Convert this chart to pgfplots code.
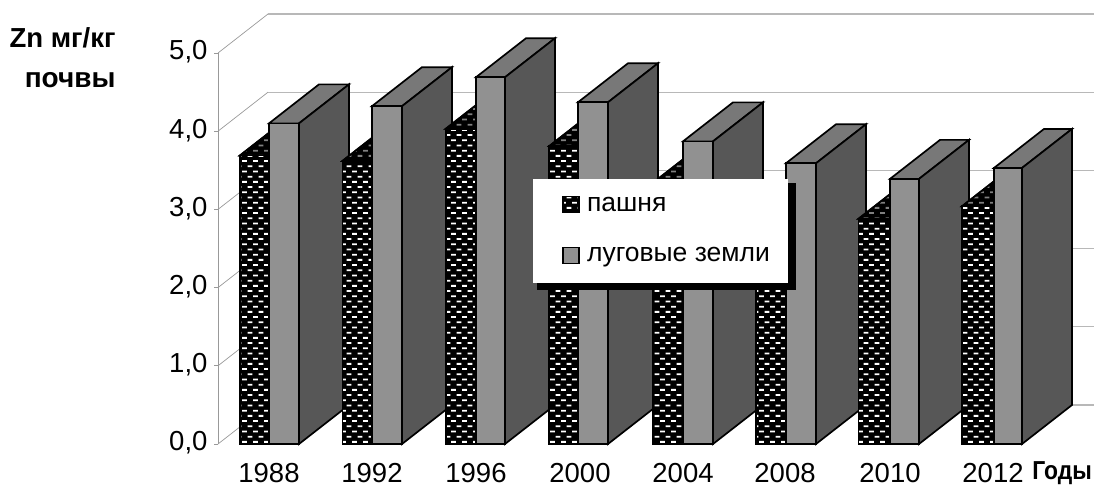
\documentclass[border=0pt]{standalone}
\usepackage{fontspec}
\setmainfont{Liberation Sans}
\usepackage{pgfplots}
\pgfplotsset{compat=1.18}
\usetikzlibrary{patterns}
\definecolor{barfront}{gray}{0.57}
\definecolor{bartop}{gray}{0.47}
\definecolor{barside}{gray}{0.34}
\definecolor{gridc}{gray}{0.72}
\definecolor{diagc}{gray}{0.6}
\pgfdeclarepatternformonly{bricksw}{\pgfqpoint{-1pt}{-1pt}}{\pgfqpoint{11pt}{10.4pt}}{\pgfqpoint{11pt}{10.4pt}}{%
  \pgfpathrectangle{\pgfqpoint{0pt}{1.6pt}}{\pgfqpoint{4.8pt}{1.8pt}}%
  \pgfpathrectangle{\pgfqpoint{5.5pt}{6.8pt}}{\pgfqpoint{4.8pt}{1.8pt}}%
  \pgfusepath{fill}}
\tikzset{
  patf/.style={fill=black,postaction={pattern=bricksw,pattern color=white}},
  patt/.style={fill=black,postaction={pattern=bricksw,pattern color=gray}},
  edge/.style={draw=black,line width=1.7pt,line join=miter,no markers},
}
\def\dx{50}\def\dy{0.4987}
\newcommand{\twobar}[5]{%
  \pgfmathsetmacro{\xa}{#1}%
  \pgfmathsetmacro{\xb}{#2}%
  \pgfmathsetmacro{\xc}{#3}%
  \pgfmathsetmacro{\pt}{#4+\dy}%
  \pgfmathsetmacro{\gt}{#5+\dy}%
  \pgfmathsetmacro{\xad}{\xa+\dx}%
  \pgfmathsetmacro{\xbd}{\xb+\dx}%
  \pgfmathsetmacro{\xcd}{\xc+\dx}%
  \addplot[edge,patt,forget plot] coordinates {(\xa,#4)(\xb,#4)(\xbd,\pt)(\xad,\pt)} --cycle;
  \addplot[edge,patf,forget plot] coordinates {(\xa,0)(\xb,0)(\xb,#4)(\xa,#4)} --cycle;
  \addplot[edge,fill=bartop,forget plot] coordinates {(\xb,#5)(\xc,#5)(\xcd,\gt)(\xbd,\gt)} --cycle;
  \addplot[edge,fill=barside,forget plot] coordinates {(\xc,0)(\xcd,\dy)(\xcd,\gt)(\xc,#5)} --cycle;
  \addplot[edge,fill=barfront,forget plot] coordinates {(\xb,0)(\xc,0)(\xc,#5)(\xb,#5)} --cycle;
}
\newcommand{\wall}[1]{%
  \pgfmathsetmacro{\wt}{#1+\dy}%
  \addplot[draw=diagc,line width=0.7pt,no markers,forget plot] coordinates {(218,#1)(268,\wt)};
  \addplot[draw=gridc,line width=1.2pt,no markers,forget plot] coordinates {(268,\wt)(1094,\wt)};
}
\begin{document}
\begin{tikzpicture}
\path[use as bounding box] (0,0) rectangle (1099pt,486pt);
\begin{axis}[
  at={(218pt,42pt)},anchor=south west,
  scale only axis,width=876pt,height=391pt,
  xmin=218,xmax=1094,ymin=0,ymax=5,
  clip=false,
  axis y line=left,axis x line=bottom,
  axis line style={-},
  y axis line style={draw=diagc,line width=0.9pt},
  x axis line style={draw=none},
  x tick style={draw=none},
  y tick style={draw=diagc,line width=0.9pt},
  tick align=outside,
  major tick length=4pt,
  ytick={0,1,2,3,4,5},
  xtick={269,372,476,580,683,785,890,993},
  xticklabels={1988,1992,1996,2000,2004,2008,2010,2012},
  ticklabel style={font=\fontsize{27.5}{29}\selectfont},
  xticklabel style={inner sep=0pt,yshift=-15pt},
  yticklabel style={xshift=-3pt,yshift=1pt,/pgf/number format/use comma,/pgf/number format/fixed,/pgf/number format/fixed zerofill,/pgf/number format/precision=1,/pgf/number format/assume math mode=true},
  legend style={at={(axis cs:533,3.38)},anchor=north west,draw=none,fill=none,
    font=\fontsize{26.5}{28}\selectfont,inner xsep=29pt,inner ysep=15pt,/tikz/row sep=31pt},
  legend cell align=left,
  legend image code/.code={\path[#1,draw=black,line width=1.3pt] (0pt,-8pt) rectangle (16pt,8pt);\path (22pt,0pt);},
]
\wall{0}\wall{1}\wall{2}\wall{3}\wall{4}\wall{5}
\twobar{240}{269}{299}{3.69}{4.10}
\twobar{342.5}{372}{402}{3.62}{4.32}
\twobar{445.7}{476}{505}{4.03}{4.69}
\twobar{549.3}{578}{608}{3.81}{4.37}
\twobar{653}{683}{713}{3.34}{3.87}
\twobar{756}{786}{816}{3.05}{3.59}
\twobar{858.5}{890}{919}{2.88}{3.39}
\twobar{962}{994}{1022}{3.04}{3.53}
\addplot[fill=black,draw=none,no markers,forget plot] coordinates {(537,3.337)(796,3.337)(796,1.970)(537,1.970)} --cycle;
\addplot[fill=white,draw=none,no markers,forget plot] coordinates {(533,3.389)(788,3.389)(788,2.059)(533,2.059)} --cycle;
\addlegendimage{patf}\addlegendentry{пашня}
\addlegendimage{fill=barfront}\addlegendentry{луговые земли}
\node[anchor=east,font=\bfseries\fontsize{27.5}{30}\selectfont] at (axis cs:119,5.19) {Zn мг/кг};
\node[anchor=east,font=\bfseries\fontsize{28}{30}\selectfont] at (axis cs:119,4.65) {почвы};
\node[anchor=east,inner sep=0pt,xscale=0.88,font=\bfseries\fontsize{26}{28}\selectfont] at (axis cs:1092,-0.37) {Годы};
\end{axis}
\end{tikzpicture}
\end{document}
